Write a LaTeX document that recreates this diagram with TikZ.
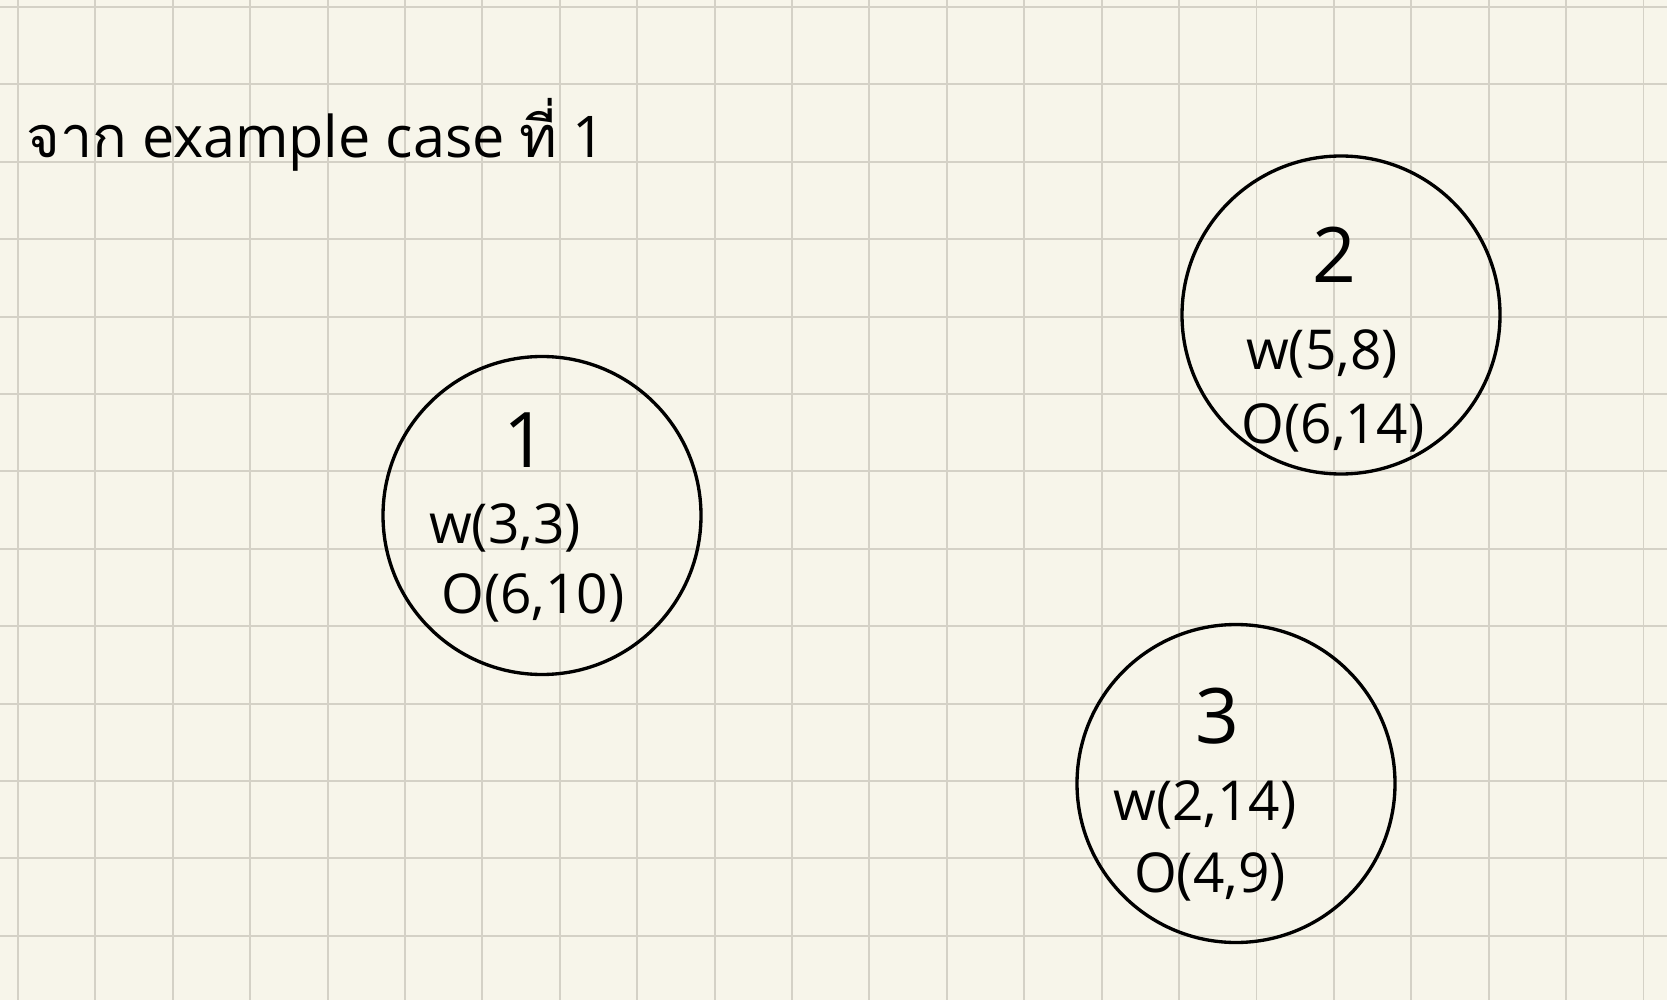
\documentclass[tikz,border=0pt]{standalone}
\usepackage{fontspec}
\setmainfont{Open Sans}
\newfontfamily\thaifont[Script=Thai]{Loma}
\definecolor{paper}{RGB}{247,245,234}
\definecolor{gridc}{RGB}{212,209,198}
\begin{document}
\begin{tikzpicture}[x=0.6pt,y=-0.6pt,
  gridline/.style={draw=gridc,line width=1.1pt},
  ring/.style={circle,draw=black,line width=2pt,minimum size=190.8pt,inner sep=0pt},
  bigtxt/.style={font=\fontsize{46}{46}\selectfont,anchor=base,inner sep=0pt},
  smalltxt/.style={font=\fontsize{33}{33}\selectfont,anchor=base,inner sep=0pt},
  titletxt/.style={font=\fontsize{34.5}{34.5}\selectfont,anchor=base west,inner sep=0pt}]
\fill[paper] (0,0) rectangle (1667,1000);
\useasboundingbox (0,0) rectangle (1667,1000);
\foreach \i in {0,...,21} \draw[gridline] ({18+77.4*\i},0) -- ({18+77.4*\i},1000);
\foreach \j in {0,...,12} \draw[gridline] (0,{7+77.4*\j}) -- (1667,{7+77.4*\j});
\node[titletxt] (title) at (26,158) {{\thaifont จาก} example case {\thaifont ที่} 1};
\node[ring] (c1) at (542,515.5) {};
\node[ring] (c2) at (1341,315) {};
\node[ring] (c3) at (1236,783.5) {};
\node[bigtxt] (n1) at (525,467) {1};
\node[smalltxt] (w1) at (505,543) {w(3,3)};
\node[smalltxt] (o1) at (533,613) {O(6,10)};
\node[bigtxt] (n2) at (1334,283) {2};
\node[smalltxt] (w2) at (1322,370) {w(5,8)};
\node[smalltxt] (o2) at (1333,443) {O(6,14)};
\node[bigtxt] (n3) at (1217,743) {3};
\node[smalltxt] (w3) at (1205,820) {w(2,14)};
\node[smalltxt] (o3) at (1210,892) {O(4,9)};
\end{tikzpicture}
\end{document}
